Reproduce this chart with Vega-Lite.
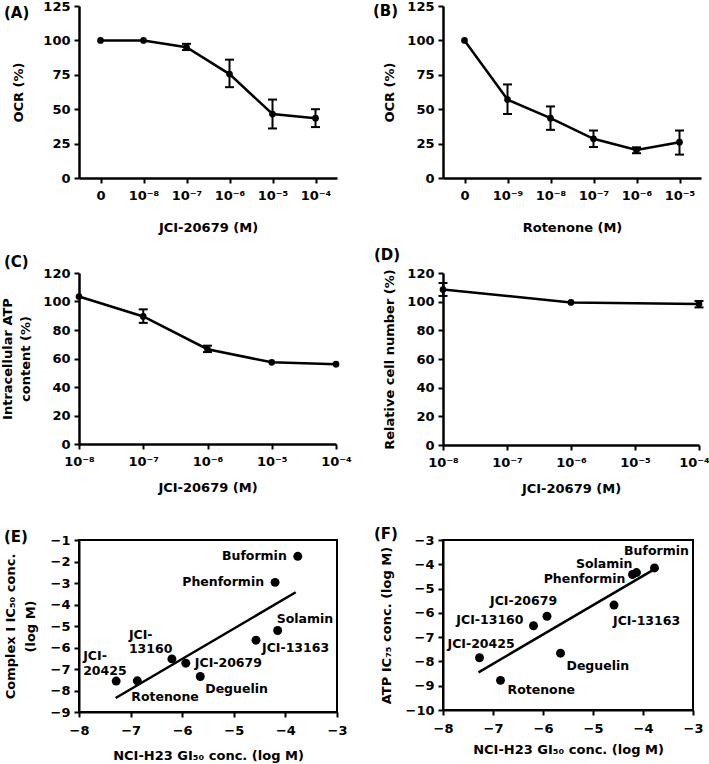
{
  "$schema": "https://vega.github.io/schema/vega-lite/v6.json",
  "padding": {"left": 1, "top": 0, "right": 0, "bottom": 0},
  "background": "white",
  "config": {
    "font": "DejaVu Sans",
    "view": {"stroke": null},
    "axis": {"domainColor": "black", "domainWidth": 2.5, "tickColor": "black", "tickWidth": 2, "tickSize": 5, "labelFont": "DejaVu Sans", "labelFontWeight": "bold", "labelFontSize": 13, "labelColor": "black", "titleFont": "DejaVu Sans", "titleFontWeight": "bold", "titleFontSize": 13, "titleColor": "black", "grid": false, "labelPadding": 4},
    "title": {"font": "DejaVu Sans", "fontSize": 15, "fontWeight": "bold", "anchor": "start", "frame": "group", "color": "black", "offset": 0, "baseline": "alphabetic"},
    "text": {"font": "DejaVu Sans", "fontSize": 12.5, "fontWeight": "bold", "color": "black", "baseline": "middle"}
  },
  "datasets": {
    "A": [
      {"conc": "0", "ocr": 100},
      {"conc": "10⁻⁸", "ocr": 100},
      {"conc": "10⁻⁷", "ocr": 95, "lo": 93, "hi": 97.5},
      {"conc": "10⁻⁶", "ocr": 75.5, "lo": 66, "hi": 86},
      {"conc": "10⁻⁵", "ocr": 46.5, "lo": 36, "hi": 57},
      {"conc": "10⁻⁴", "ocr": 43.5, "lo": 37, "hi": 50}
    ],
    "B": [
      {"conc": "0", "ocr": 100},
      {"conc": "10⁻⁹", "ocr": 57, "lo": 46.5, "hi": 68},
      {"conc": "10⁻⁸", "ocr": 43.5, "lo": 35, "hi": 52},
      {"conc": "10⁻⁷", "ocr": 28.5, "lo": 22.5, "hi": 34.5},
      {"conc": "10⁻⁶", "ocr": 20.3, "lo": 18, "hi": 22.3},
      {"conc": "10⁻⁵", "ocr": 26, "lo": 17, "hi": 34.5}
    ],
    "C": [
      {"conc": 1e-8, "atp": 103.5},
      {"conc": 1e-7, "atp": 89.5, "lo": 85, "hi": 94.5},
      {"conc": 1e-6, "atp": 66.5, "lo": 64.5, "hi": 69},
      {"conc": 1e-5, "atp": 57.3},
      {"conc": 1e-4, "atp": 56}
    ],
    "D": [
      {"conc": 1e-8, "cells": 108.5, "lo": 104, "hi": 113},
      {"conc": 1e-6, "cells": 99.5},
      {"conc": 1e-4, "cells": 98.3, "lo": 96, "hi": 100.5}
    ],
    "E": [
      {"name": "Buformin", "gi50": -3.76, "ic": -1.76},
      {"name": "Phenformin", "gi50": -4.2, "ic": -2.97},
      {"name": "Solamin", "gi50": -4.15, "ic": -5.21},
      {"name": "JCI-13163", "gi50": -4.57, "ic": -5.66},
      {"name": "JCI-13160", "gi50": -6.2, "ic": -6.53},
      {"name": "JCI-20679", "gi50": -5.93, "ic": -6.73},
      {"name": "Deguelin", "gi50": -5.65, "ic": -7.35},
      {"name": "Rotenone", "gi50": -6.87, "ic": -7.55},
      {"name": "JCI-20425", "gi50": -7.28, "ic": -7.56}
    ],
    "Eline": [
      {"gi50": -7.29, "ic": -8.35},
      {"gi50": -3.8, "ic": -3.43}
    ],
    "F": [
      {"name": "Buformin", "gi50": -3.77, "ic": -4.15},
      {"name": "Solamin", "gi50": -4.13, "ic": -4.34},
      {"name": "Phenformin", "gi50": -4.21, "ic": -4.42},
      {"name": "JCI-13163", "gi50": -4.58, "ic": -5.68},
      {"name": "JCI-20679", "gi50": -5.92, "ic": -6.14},
      {"name": "JCI-13160", "gi50": -6.19, "ic": -6.53},
      {"name": "JCI-20425", "gi50": -7.27, "ic": -7.85},
      {"name": "Deguelin", "gi50": -5.65, "ic": -7.66},
      {"name": "Rotenone", "gi50": -6.85, "ic": -8.78}
    ],
    "Fline": [
      {"gi50": -7.29, "ic": -8.45},
      {"gi50": -3.82, "ic": -4.26}
    ]
  },
  "concat": [
    {
      "width": 258, "height": 172,
      "title": {"text": "(A)", "dx": -75, "dy": 25},
      "data": {"name": "A"},
      "encoding": {"x": {"field": "conc", "type": "ordinal", "scale": {"type": "point", "padding": 0.5, "domain": ["0", "10⁻⁸", "10⁻⁷", "10⁻⁶", "10⁻⁵", "10⁻⁴"]}, "axis": {"labelAngle": 0, "title": "JCI-20679 (M)", "labelPadding": 6, "titlePadding": 19}}},
      "layer": [
        {"mark": {"type": "rule", "strokeWidth": 2, "color": "black"}, "encoding": {"y": {"field": "lo", "type": "quantitative", "scale": {"domain": [0, 125], "nice": false}, "axis": {"values": [0, 25, 50, 75, 100, 125], "titlePadding": 17}, "title": "OCR (%)"}, "y2": {"field": "hi"}}},
        {"mark": {"type": "tick", "orient": "horizontal", "size": 9, "thickness": 2, "color": "black", "opacity": 1}, "encoding": {"y": {"field": "lo", "type": "quantitative", "scale": {"domain": [0, 125], "nice": false}, "axis": {"values": [0, 25, 50, 75, 100, 125], "titlePadding": 17}, "title": "OCR (%)"}}},
        {"mark": {"type": "tick", "orient": "horizontal", "size": 9, "thickness": 2, "color": "black", "opacity": 1}, "encoding": {"y": {"field": "hi", "type": "quantitative", "scale": {"domain": [0, 125], "nice": false}, "axis": {"values": [0, 25, 50, 75, 100, 125], "titlePadding": 17}, "title": "OCR (%)"}}},
        {"mark": {"type": "line", "color": "black", "strokeWidth": 2.5}, "encoding": {"y": {"field": "ocr", "type": "quantitative", "scale": {"domain": [0, 125], "nice": false}, "axis": {"values": [0, 25, 50, 75, 100, 125], "titlePadding": 17}, "title": "OCR (%)"}}},
        {"mark": {"type": "point", "filled": true, "color": "black", "opacity": 1, "size": 45}, "encoding": {"y": {"field": "ocr", "type": "quantitative", "scale": {"domain": [0, 125], "nice": false}, "axis": {"values": [0, 25, 50, 75, 100, 125], "titlePadding": 17}, "title": "OCR (%)"}}}
      ]
    },
    {
      "width": 258, "height": 172,
      "title": {"text": "(B)", "dx": -70, "dy": 23},
      "data": {"name": "B"},
      "encoding": {"x": {"field": "conc", "type": "ordinal", "scale": {"type": "point", "padding": 0.5, "domain": ["0", "10⁻⁹", "10⁻⁸", "10⁻⁷", "10⁻⁶", "10⁻⁵"]}, "axis": {"labelAngle": 0, "title": "Rotenone (M)", "labelPadding": 6, "titlePadding": 19}}},
      "layer": [
        {"mark": {"type": "rule", "strokeWidth": 2, "color": "black"}, "encoding": {"y": {"field": "lo", "type": "quantitative", "scale": {"domain": [0, 125], "nice": false}, "axis": {"values": [0, 25, 50, 75, 100, 125], "titlePadding": 10}, "title": "OCR (%)"}, "y2": {"field": "hi"}}},
        {"mark": {"type": "tick", "orient": "horizontal", "size": 9, "thickness": 2, "color": "black", "opacity": 1}, "encoding": {"y": {"field": "lo", "type": "quantitative", "scale": {"domain": [0, 125], "nice": false}, "axis": {"values": [0, 25, 50, 75, 100, 125], "titlePadding": 10}, "title": "OCR (%)"}}},
        {"mark": {"type": "tick", "orient": "horizontal", "size": 9, "thickness": 2, "color": "black", "opacity": 1}, "encoding": {"y": {"field": "hi", "type": "quantitative", "scale": {"domain": [0, 125], "nice": false}, "axis": {"values": [0, 25, 50, 75, 100, 125], "titlePadding": 10}, "title": "OCR (%)"}}},
        {"mark": {"type": "line", "color": "black", "strokeWidth": 2.5}, "encoding": {"y": {"field": "ocr", "type": "quantitative", "scale": {"domain": [0, 125], "nice": false}, "axis": {"values": [0, 25, 50, 75, 100, 125], "titlePadding": 10}, "title": "OCR (%)"}}},
        {"mark": {"type": "point", "filled": true, "color": "black", "opacity": 1, "size": 45}, "encoding": {"y": {"field": "ocr", "type": "quantitative", "scale": {"domain": [0, 125], "nice": false}, "axis": {"values": [0, 25, 50, 75, 100, 125], "titlePadding": 10}, "title": "OCR (%)"}}}
      ]
    },
    {
      "width": 257, "height": 171,
      "title": {"text": "(C)", "dx": -75, "dy": 7},
      "data": {"name": "C"},
      "encoding": {"x": {"field": "conc", "type": "quantitative", "scale": {"type": "log", "domain": [1e-8, 1e-4], "nice": false}, "axis": {"values": [1e-8, 1e-7, 1e-6, 1e-5, 1e-4], "labelExpr": "'10' + (datum.value < 5e-8 ? '⁻⁸' : datum.value < 5e-7 ? '⁻⁷' : datum.value < 5e-6 ? '⁻⁶' : datum.value < 5e-5 ? '⁻⁵' : '⁻⁴')", "title": "JCI-20679 (M)", "labelPadding": 6, "titlePadding": 13, "labelFlush": false}}},
      "layer": [
        {"mark": {"type": "rule", "strokeWidth": 2, "color": "black"}, "encoding": {"y": {"field": "lo", "type": "quantitative", "scale": {"domain": [0, 120], "nice": false}, "axis": {"values": [0, 20, 40, 60, 80, 100, 120], "titlePadding": 10.5, "titleLineHeight": 18}, "title": ["Intracellular ATP", "content (%)"]}, "y2": {"field": "hi"}}},
        {"mark": {"type": "tick", "orient": "horizontal", "size": 9, "thickness": 2, "color": "black", "opacity": 1}, "encoding": {"y": {"field": "lo", "type": "quantitative", "scale": {"domain": [0, 120], "nice": false}, "axis": {"values": [0, 20, 40, 60, 80, 100, 120], "titlePadding": 10.5, "titleLineHeight": 18}, "title": ["Intracellular ATP", "content (%)"]}}},
        {"mark": {"type": "tick", "orient": "horizontal", "size": 9, "thickness": 2, "color": "black", "opacity": 1}, "encoding": {"y": {"field": "hi", "type": "quantitative", "scale": {"domain": [0, 120], "nice": false}, "axis": {"values": [0, 20, 40, 60, 80, 100, 120], "titlePadding": 10.5, "titleLineHeight": 18}, "title": ["Intracellular ATP", "content (%)"]}}},
        {"mark": {"type": "line", "color": "black", "strokeWidth": 2.5}, "encoding": {"y": {"field": "atp", "type": "quantitative", "scale": {"domain": [0, 120], "nice": false}, "axis": {"values": [0, 20, 40, 60, 80, 100, 120], "titlePadding": 10.5, "titleLineHeight": 18}, "title": ["Intracellular ATP", "content (%)"]}}},
        {"mark": {"type": "point", "filled": true, "color": "black", "opacity": 1, "size": 45}, "encoding": {"y": {"field": "atp", "type": "quantitative", "scale": {"domain": [0, 120], "nice": false}, "axis": {"values": [0, 20, 40, 60, 80, 100, 120], "titlePadding": 10.5, "titleLineHeight": 18}, "title": ["Intracellular ATP", "content (%)"]}}}
      ]
    },
    {
      "width": 256, "height": 172,
      "title": {"text": "(D)", "dx": -69, "dy": 0},
      "data": {"name": "D"},
      "encoding": {"x": {"field": "conc", "type": "quantitative", "scale": {"type": "log", "domain": [1e-8, 1e-4], "nice": false}, "axis": {"values": [1e-8, 1e-7, 1e-6, 1e-5, 1e-4], "labelExpr": "'10' + (datum.value < 5e-8 ? '⁻⁸' : datum.value < 5e-7 ? '⁻⁷' : datum.value < 5e-6 ? '⁻⁶' : datum.value < 5e-5 ? '⁻⁵' : '⁻⁴')", "title": "JCI-20679 (M)", "labelPadding": 6, "titlePadding": 13, "labelFlush": false, "labelOffset": {"condition": {"test": "datum.value > 5e-5", "value": -5}, "value": 0}}}},
      "layer": [
        {"mark": {"type": "rule", "strokeWidth": 2, "color": "black"}, "encoding": {"y": {"field": "lo", "type": "quantitative", "scale": {"domain": [0, 120], "nice": false}, "axis": {"values": [0, 20, 40, 60, 80, 100, 120], "titlePadding": 10}, "title": "Relative cell number (%)"}, "y2": {"field": "hi"}}},
        {"mark": {"type": "tick", "orient": "horizontal", "size": 9, "thickness": 2, "color": "black", "opacity": 1}, "encoding": {"y": {"field": "lo", "type": "quantitative", "scale": {"domain": [0, 120], "nice": false}, "axis": {"values": [0, 20, 40, 60, 80, 100, 120], "titlePadding": 10}, "title": "Relative cell number (%)"}}},
        {"mark": {"type": "tick", "orient": "horizontal", "size": 9, "thickness": 2, "color": "black", "opacity": 1}, "encoding": {"y": {"field": "hi", "type": "quantitative", "scale": {"domain": [0, 120], "nice": false}, "axis": {"values": [0, 20, 40, 60, 80, 100, 120], "titlePadding": 10}, "title": "Relative cell number (%)"}}},
        {"mark": {"type": "line", "color": "black", "strokeWidth": 2.5}, "encoding": {"y": {"field": "cells", "type": "quantitative", "scale": {"domain": [0, 120], "nice": false}, "axis": {"values": [0, 20, 40, 60, 80, 100, 120], "titlePadding": 10}, "title": "Relative cell number (%)"}}},
        {"mark": {"type": "point", "filled": true, "color": "black", "opacity": 1, "size": 45}, "encoding": {"y": {"field": "cells", "type": "quantitative", "scale": {"domain": [0, 120], "nice": false}, "axis": {"values": [0, 20, 40, 60, 80, 100, 120], "titlePadding": 10}, "title": "Relative cell number (%)"}}}
      ]
    },
    {
      "width": 258, "height": 172,
      "title": {"text": "(E)", "dx": -75, "dy": 15},
      "view": {"stroke": "black", "strokeWidth": 2},
      "data": {"name": "E"},
      "encoding": {
        "x": {"field": "gi50", "type": "quantitative", "scale": {"domain": [-8, -3], "nice": false}, "axis": {"values": [-8, -7, -6, -5, -4, -3], "domainWidth": 2, "labelPadding": 7, "titlePadding": 12, "labelFlush": false}, "title": "NCI-H23 GI₅₀ conc. (log M)"},
        "y": {"field": "ic", "type": "quantitative", "scale": {"domain": [-9, -1], "nice": false}, "axis": {"values": [-9, -8, -7, -6, -5, -4, -3, -2, -1], "domainWidth": 2, "titlePadding": 13, "titleLineHeight": 20, "labelFlush": false}, "title": ["Complex I IC₅₀ conc.", "(log M)"]}
      },
      "layer": [
        {"data": {"name": "Eline"}, "mark": {"type": "line", "color": "black", "strokeWidth": 2.5}},
        {"mark": {"type": "circle", "color": "black", "opacity": 1, "size": 80}},
        {"transform": [{"filter": "datum.name === 'Buformin'"}], "mark": {"type": "text", "align": "right", "dx": -11}, "encoding": {"text": {"field": "name"}}},
        {"transform": [{"filter": "datum.name === 'Phenformin'"}], "mark": {"type": "text", "align": "right", "dx": -11}, "encoding": {"text": {"field": "name"}}},
        {"transform": [{"filter": "datum.name === 'Solamin'"}], "mark": {"type": "text", "align": "left", "dx": -1, "dy": -12}, "encoding": {"text": {"field": "name"}}},
        {"transform": [{"filter": "datum.name === 'JCI-13163'"}], "mark": {"type": "text", "align": "left", "dx": 6, "dy": 8}, "encoding": {"text": {"field": "name"}}},
        {"transform": [{"filter": "datum.name === 'JCI-13160'"}], "mark": {"type": "text", "align": "left", "dx": -43, "dy": -24, "lineHeight": 14.5}, "encoding": {"text": {"value": ["JCI-", "13160"]}}},
        {"transform": [{"filter": "datum.name === 'JCI-20679'"}], "mark": {"type": "text", "align": "left", "dx": 9}, "encoding": {"text": {"field": "name"}}},
        {"transform": [{"filter": "datum.name === 'Deguelin'"}], "mark": {"type": "text", "align": "left", "dx": 5, "dy": 12.7}, "encoding": {"text": {"field": "name"}}},
        {"transform": [{"filter": "datum.name === 'Rotenone'"}], "mark": {"type": "text", "align": "left", "dx": -6, "dy": 16.3}, "encoding": {"text": {"field": "name"}}},
        {"transform": [{"filter": "datum.name === 'JCI-20425'"}], "mark": {"type": "text", "align": "left", "dx": -33, "dy": -25, "lineHeight": 14.5}, "encoding": {"text": {"value": ["JCI-", "20425"]}}}
      ]
    },
    {
      "width": 250, "height": 170,
      "title": {"text": "(F)", "dx": -69, "dy": 12},
      "view": {"stroke": "black", "strokeWidth": 2},
      "data": {"name": "F"},
      "encoding": {
        "x": {"field": "gi50", "type": "quantitative", "scale": {"domain": [-8, -3], "nice": false}, "axis": {"values": [-8, -7, -6, -5, -4, -3], "domainWidth": 2, "labelPadding": 7, "titlePadding": 8, "labelFlush": false}, "title": "NCI-H23 GI₅₀ conc. (log M)"},
        "y": {"field": "ic", "type": "quantitative", "scale": {"domain": [-10, -3], "nice": false}, "axis": {"values": [-10, -9, -8, -7, -6, -5, -4, -3], "domainWidth": 2, "titlePadding": 12, "labelFlush": false}, "title": "ATP IC₇₅ conc. (log M)"}
      },
      "layer": [
        {"data": {"name": "Fline"}, "mark": {"type": "line", "color": "black", "strokeWidth": 2.5}},
        {"mark": {"type": "circle", "color": "black", "opacity": 1, "size": 80}},
        {"transform": [{"filter": "datum.name === 'Buformin'"}], "mark": {"type": "text", "align": "center", "dx": 2, "dy": -17}, "encoding": {"text": {"field": "name"}}},
        {"transform": [{"filter": "datum.name === 'Solamin'"}], "mark": {"type": "text", "align": "right", "dx": -4, "dy": -9}, "encoding": {"text": {"field": "name"}}},
        {"transform": [{"filter": "datum.name === 'Phenformin'"}], "mark": {"type": "text", "align": "right", "dx": -7, "dy": 5}, "encoding": {"text": {"field": "name"}}},
        {"transform": [{"filter": "datum.name === 'JCI-13163'"}], "mark": {"type": "text", "align": "left", "dx": -1, "dy": 16}, "encoding": {"text": {"field": "name"}}},
        {"transform": [{"filter": "datum.name === 'JCI-20679'"}], "mark": {"type": "text", "align": "left", "dx": -57, "dy": -15}, "encoding": {"text": {"field": "name"}}},
        {"transform": [{"filter": "datum.name === 'JCI-13160'"}], "mark": {"type": "text", "align": "right", "dx": -10, "dy": -6}, "encoding": {"text": {"field": "name"}}},
        {"transform": [{"filter": "datum.name === 'JCI-20425'"}], "mark": {"type": "text", "align": "left", "dx": -32, "dy": -14}, "encoding": {"text": {"field": "name"}}},
        {"transform": [{"filter": "datum.name === 'Deguelin'"}], "mark": {"type": "text", "align": "left", "dx": 6, "dy": 13}, "encoding": {"text": {"field": "name"}}},
        {"transform": [{"filter": "datum.name === 'Rotenone'"}], "mark": {"type": "text", "align": "left", "dx": 7, "dy": 10}, "encoding": {"text": {"field": "name"}}}
      ]
    }
  ],
  "columns": 2,
  "align": "all",
  "bounds": "flush",
  "spacing": {"row": 95, "column": 106}
}
